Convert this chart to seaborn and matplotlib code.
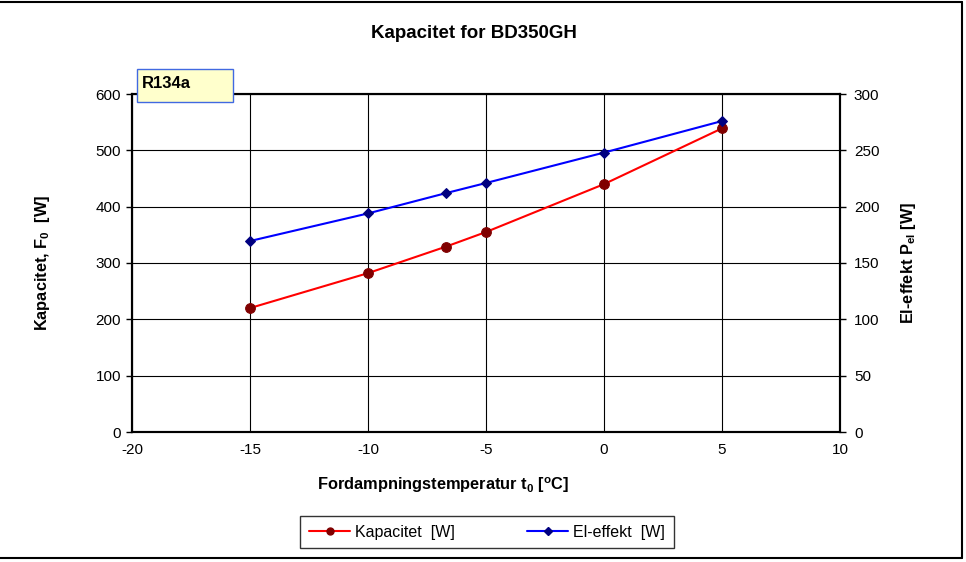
import seaborn as sns
import matplotlib.pyplot as plt
import pandas as pd
from matplotlib.lines import Line2D
from matplotlib.patches import Rectangle

# temperaturer og maalinger aflaest fra diagrammet
temps = [-15, -10, -6.7, -5, 0, 5]
kapacitet = [220, 282, 329, 355, 440, 539]
el_effekt = [169.5, 194, 212, 221, 248, 276]

df = pd.DataFrame({"t0": temps, "kap": kapacitet, "el": el_effekt})

sns.set_style("white")
plt.rcParams["font.family"] = ["Liberation Sans", "DejaVu Sans"]
plt.rcParams["axes.unicode_minus"] = False
plt.rcParams["text.color"] = "black"

fig = plt.figure(figsize=(9.66, 5.62), dpi=100)
ax = fig.add_axes([132 / 966, 1 - 432 / 562, (840 - 132) / 966, (432 - 94) / 562])
ax2 = ax.twinx()

sns.lineplot(data=df, x="t0", y="kap", ax=ax, color="#FF0000", lw=1.5,
             marker="o", markersize=7, markerfacecolor="#800000",
             markeredgecolor="#800000", legend=False, zorder=3)
sns.lineplot(data=df, x="t0", y="el", ax=ax2, color="#0000FF", lw=1.5,
             marker="D", markersize=5.5, markerfacecolor="#000080",
             markeredgecolor="#000080", legend=False, zorder=3)

ax.set_xlim(-20, 10)
ax.set_ylim(0, 600)
ax2.set_ylim(0, 300)
ax.set_xticks(range(-20, 11, 5))
ax.set_yticks(range(0, 601, 100))
ax2.set_yticks(range(0, 301, 50))
ax.grid(True, color="black", lw=0.8)
ax2.grid(False)

for a in (ax, ax2):
    for s in a.spines.values():
        s.set_visible(True)
        s.set_color("black")
        s.set_linewidth(1.5)
    a.tick_params(labelsize=11, colors="black", length=4, width=1, direction="out")
ax.tick_params(axis="both", pad=4)
ax2.tick_params(axis="y", pad=6)
ax.set_xlabel("")
ax.set_ylabel("")
ax2.set_ylabel("")

fig.text(474 / 966, 1 - 33 / 562, "Kapacitet for BD350GH", ha="center", va="center",
         fontsize=13.5, fontweight="bold")
fig.text(443 / 966, 1 - 485 / 562, "Fordampningstemperatur t$_\\mathregular{0}$ [$^\\mathregular{o}$C]",
         ha="center", va="center", fontsize=11.8, fontweight="bold")
fig.text(42 / 966, 1 - 263 / 562, "Kapacitet, F$_\\mathregular{0}$  [W]", rotation=90,
         ha="center", va="center", fontsize=11.8, fontweight="bold")
fig.text(908 / 966, 1 - 263 / 562, "El-effekt P$_\\mathregular{el}$ [W]", rotation=90,
         ha="center", va="center", fontsize=11.8, fontweight="bold")

# R134a label box
fig.patches.append(Rectangle((137 / 966, 1 - 102 / 562), 96 / 966, 33 / 562,
                             transform=fig.transFigure, facecolor="#FFFFCC",
                             edgecolor="#4169E1", lw=1, zorder=5))
fig.text(142 / 966, 1 - 83 / 562, "R134a", ha="left", va="center",
         fontsize=12, fontweight="bold", zorder=6)

handles = [
    Line2D([], [], color="#FF0000", lw=1.5, marker="o", markersize=5,
           markerfacecolor="#800000", markeredgecolor="#800000"),
    Line2D([], [], color="#0000FF", lw=1.5, marker="D", markersize=4,
           markerfacecolor="#000080", markeredgecolor="#000080"),
]
leg = fig.legend(handles, ["Kapacitet  [W]", "El-effekt  [W]"], ncol=2,
                 loc="center", bbox_to_anchor=(487 / 966, 1 - 532 / 562),
                 frameon=True, fancybox=False, fontsize=11.5, handlelength=2.6,
                 handletextpad=0.3, columnspacing=4.5, borderpad=0.55,
                 borderaxespad=0, edgecolor="black")
leg.get_frame().set_linewidth(1)
leg.get_frame().set_boxstyle("square", pad=0)
leg._legend_box.sep = 0
for t in leg.get_texts():
    t.set_color("black")

# outer chart border (top, right, bottom)
fig.add_artist(Line2D([0, 962 / 966], [1 - 2 / 562, 1 - 2 / 562], color="black", lw=1.5,
                      transform=fig.transFigure))
fig.add_artist(Line2D([962 / 966, 962 / 966], [1 - 2 / 562, 1 - 558 / 562], color="black", lw=1.5,
                      transform=fig.transFigure))
fig.add_artist(Line2D([0, 962 / 966], [1 - 558 / 562, 1 - 558 / 562], color="black", lw=1.5,
                      transform=fig.transFigure))

fig.savefig("out.png", dpi=100)
